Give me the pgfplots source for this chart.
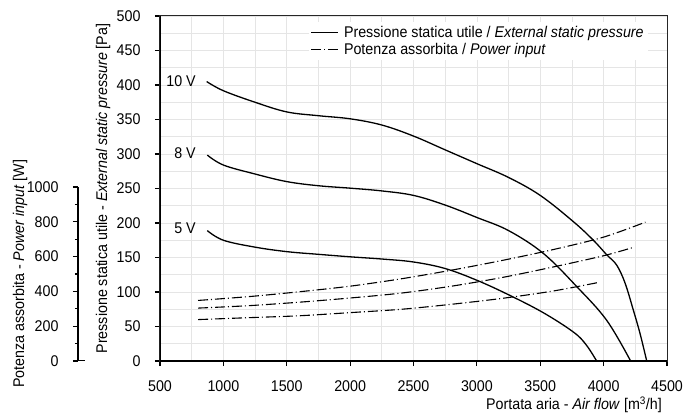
\documentclass[border=0pt]{standalone}
\usepackage{pgfplots}
\pgfplotsset{compat=1.18}
\usepackage{pgfplotstable}
\usepackage{fontspec}
\setmainfont{Liberation Sans}[FakeStretch=0.92]

\pgfplotstableread{
x y
868 405
1000 391.7
1250 375
1500 361
1750 355.5
2000 351
2250 342
2500 326
2750 306
3000 286
3250 266
3500 240
3761 202
3919 175
4024 154
4103 139
4169 113
4234 74
4287 40
4340 0
}\tenV
\pgfplotstableread{
x y
873 298.5
1000 284
1250 271
1500 260
1750 254
2000 250.5
2250 246.5
2500 240
2750 226
3000 208
3250 189
3524 156
3787 108
4024 59
4213 0
}\eightV
\pgfplotstableread{
x y
873 189
1000 175
1250 165
1500 158.5
1750 154.6
2000 151
2250 147.8
2500 143.5
2750 134
3000 117
3250 96
3524 70
3761 42
3860 24
3945 0
}\fiveV
\pgfplotstableread{
x y
800 348
1200 370
1600 398
2000 430
2400 472
2800 522
3200 578
3600 640
4000 712
4330 798
}\powTen
\pgfplotstableread{
x y
800 304
1200 318
1600 338
2000 362
2400 390
2800 430
3200 480
3600 540
4000 605
4230 652
}\powEight
\pgfplotstableread{
x y
800 238
1200 249
1600 260
2000 278
2400 297
2800 326
3200 360
3600 402
3950 450
}\powFive

\begin{document}
\begin{tikzpicture}[font=\fontsize{15.5bp}{18.5bp}\selectfont]
\path[use as bounding box] (-160bp,-56bp) rectangle (540bp,361bp);
\begin{axis}[
  at={(0,0)}, anchor=south west, scale only axis,
  width=507bp, height=345bp,
  xmin=500, xmax=4500, ymin=0, ymax=500,
  xtick={500,1000,...,4500}, ytick={0,50,...,500},
  minor x tick num=1, minor y tick num=1,
  grid=both,
  major grid style={black!10, line width=0.7bp},
  minor grid style={black!10, line width=0.7bp},
  minor tick length=0pt, major tick length=5bp,
  tick align=outside, tickpos=left,
  tick style={black, line width=1.2bp},
  axis line style={black!85, line width=1bp},
  /pgf/number format/assume math mode=true,
  /pgf/number format/1000 sep={},
  yticklabel style={xshift=-11bp},
  xticklabel style={yshift=-11bp},
  xlabel={Portata aria - \textit{Air flow} [m\textsuperscript{3}/h]},
  xlabel style={at={(axis description cs:0.9901,-0.1275)}, anchor=east, inner sep=0pt},
  ylabel={Pressione statica utile - \textit{External static pressure} [Pa]},
  ylabel style={at={(axis description cs:-0.1124,0.5)}, anchor=center, inner sep=0pt},
  legend style={draw=none, fill=white, at={(rel axis cs:0.293,0.982)}, anchor=north west,
    row sep=0bp, column sep=3bp, inner sep=2bp, cells={anchor=west}},
  legend image code/.code={\draw[#1] (0bp,0bp) -- (27bp,0bp);},
]
\addplot[black, line width=1.3bp, smooth, tension=0.6, forget plot] table {\tenV};
\addplot[black, line width=1.3bp, smooth, tension=0.6, forget plot] table {\eightV};
\addplot[black, line width=1.3bp, smooth, tension=0.6, forget plot] table {\fiveV};
\addlegendimage{black, line width=1.3bp}
\addlegendentry{Pressione statica utile / \textit{External static pressure}}
\addlegendimage{black, line width=1.1bp, dash pattern=on 10bp off 3bp on 1bp off 3bp}
\addlegendentry{Potenza assorbita / \textit{Power input}}
\node[anchor=east] at (axis cs:810,406) {10 V};
\node[anchor=east] at (axis cs:810,301) {8 V};
\node[anchor=east] at (axis cs:810,193) {5 V};
\draw[black, line width=2.2bp] (rel axis cs:0,1) -- (rel axis cs:0,0) -- (rel axis cs:1,0);
\end{axis}

\begin{axis}[
  at={(0,0)}, anchor=south west, scale only axis,
  width=507bp, height=345bp,
  xmin=500, xmax=4500, ymin=0, ymax=1982.76,
  hide axis,
]
\addplot[black, line width=1.1bp, smooth, dash pattern=on 10bp off 3bp on 1bp off 3bp] table {\powTen};
\addplot[black, line width=1.1bp, smooth, dash pattern=on 10bp off 3bp on 1bp off 3bp] table {\powEight};
\addplot[black, line width=1.1bp, smooth, dash pattern=on 10bp off 3bp on 1bp off 3bp] table {\powFive};
\end{axis}

\begin{axis}[
  at={(-82bp,0)}, anchor=south west, scale only axis,
  width=10bp, height=174bp,
  xmin=0, xmax=1, ymin=0, ymax=1000,
  axis x line=none, axis y line=left,
  axis line style={black, line width=2bp, -},
  ytick={0,200,...,1000}, minor y tick num=1,
  tick align=outside, major tick length=5bp, minor tick length=3bp,
  tick style={black, line width=1.2bp},
  /pgf/number format/assume math mode=true,
  /pgf/number format/1000 sep={},
  yticklabel style={xshift=-11bp},
  ylabel={Potenza assorbita - \textit{Power input} [W]},
  ylabel style={at={(axis description cs:-5.8,0.5)}, anchor=center, inner sep=0pt},
]
\addplot[draw=none] coordinates {(0,0)};
\draw[black, line width=2bp] (rel axis cs:0,0) -- ++(7bp,0);
\end{axis}
\end{tikzpicture}
\end{document}
